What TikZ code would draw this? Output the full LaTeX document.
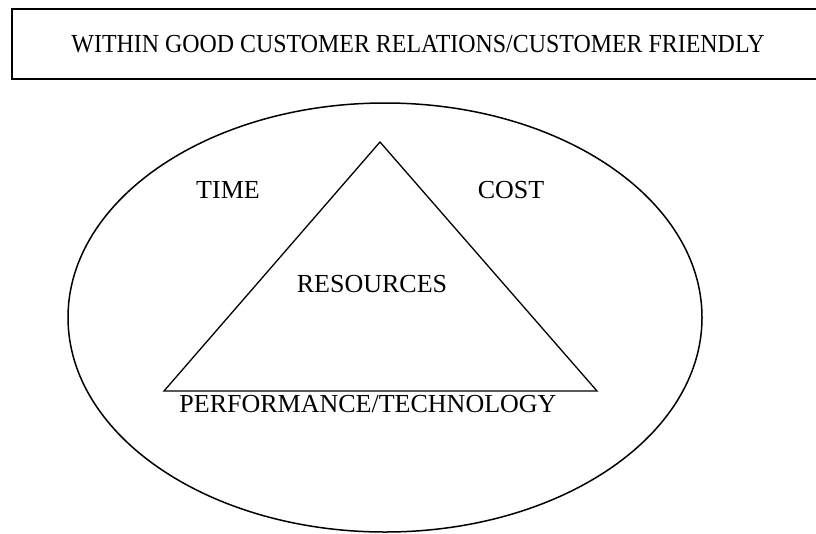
\documentclass[tikz,border=0pt]{standalone}
\usepackage{fontspec}
\setmainfont{Liberation Serif}
\newfontfamily\narrowserif[FakeStretch=0.92]{Liberation Serif}
\usetikzlibrary{shapes.geometric, positioning}

\begin{document}
\begin{tikzpicture}[
    x=1pt, y=-1pt,
    banner/.style={rectangle, draw, line width=2.6pt, minimum width=812pt, minimum height=70pt, font=\narrowserif\fontsize{26}{30}\selectfont},
    oval/.style={ellipse, draw, line width=1.5pt, minimum width=634pt, minimum height=429pt, inner sep=0pt},
    tag/.style={anchor=base, inner sep=0pt, font=\fontsize{26}{30}\selectfont}
]
\useasboundingbox (0,0) rectangle (816,533);

% Heading box across the top
\node[banner] (within) at (418,44) {WITHIN GOOD CUSTOMER RELATIONS/CUSTOMER FRIENDLY};

% Outer ellipse with the triangle inside
\node[oval] (field) at (385,317.5) {};
\coordinate (apex) at (380,142);
\coordinate (baseL) at (164,391);
\coordinate (baseR) at (597,391);
\draw[line width=1.3pt] (apex) -- (baseR) -- (baseL) -- cycle;

% Labels
\node[tag] (time) at (228,198) {TIME};
\node[tag] (cost) at (511,198) {COST};
\node[tag] (res) at (372,292) {RESOURCES};
\node[tag] (perf) at (368,412) {PERFORMANCE/TECHNOLOGY};

\end{tikzpicture}
\end{document}
